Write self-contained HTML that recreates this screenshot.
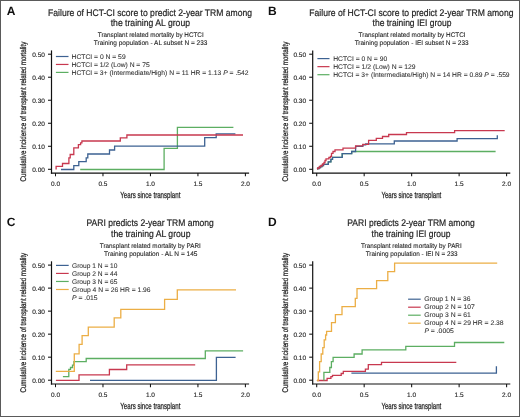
<!DOCTYPE html>
<html><head><meta charset="utf-8"><title>Figure</title>
<style>
html,body{margin:0;padding:0;background:#fff;}
body{width:520px;height:417px;overflow:hidden;font-family:"Liberation Sans", sans-serif;}
svg{display:block;will-change:transform;text-rendering:geometricPrecision;}
</style></head>
<body>
<svg width="520" height="417" viewBox="0 0 520 417" font-family='"Liberation Sans", sans-serif'>
<rect x="0" y="0" width="520" height="417" fill="#fff"/>
<g transform="translate(0,0)">
<text x="6.7" y="15.0" font-size="12" fill="#111" font-weight="bold" text-anchor="start" >A</text>
<text x="48.10" y="15.6" font-size="9.6" fill="#1e1e1e" font-weight="normal" stroke="#1e1e1e" stroke-width="0.2" textLength="203.90" lengthAdjust="spacingAndGlyphs" >Failure of HCT-CI score to predict 2-year TRM among</text>
<text x="110.70" y="25.9" font-size="9.6" fill="#1e1e1e" font-weight="normal" stroke="#1e1e1e" stroke-width="0.2" textLength="79.30" lengthAdjust="spacingAndGlyphs" >the training AL group</text>
<text x="97.75" y="37.2" font-size="6.7" fill="#1e1e1e" font-weight="normal" stroke="#1e1e1e" stroke-width="0.1" textLength="105.90" lengthAdjust="spacingAndGlyphs" >Transplant related mortality by HCTCI</text>
<text x="93.75" y="45.0" font-size="6.7" fill="#1e1e1e" font-weight="normal" stroke="#1e1e1e" stroke-width="0.1" textLength="113.60" lengthAdjust="spacingAndGlyphs" >Training population - AL subset N = 233</text>
<line x1="51.5" y1="50.4" x2="51.5" y2="173.7" stroke="#111" stroke-width="1.2"/>
<line x1="50.9" y1="173.1" x2="249.1" y2="173.1" stroke="#111" stroke-width="1.2"/>
<line x1="48.0" y1="169.30" x2="51.5" y2="169.30" stroke="#111" stroke-width="1.05"/>
<text x="44.9" y="171.80" font-size="6.5" fill="#222" font-weight="normal" stroke="#222" stroke-width="0.12" text-anchor="end" >0.00</text>
<line x1="48.0" y1="146.28" x2="51.5" y2="146.28" stroke="#111" stroke-width="1.05"/>
<text x="44.9" y="148.78" font-size="6.5" fill="#222" font-weight="normal" stroke="#222" stroke-width="0.12" text-anchor="end" >0.10</text>
<line x1="48.0" y1="123.26" x2="51.5" y2="123.26" stroke="#111" stroke-width="1.05"/>
<text x="44.9" y="125.76" font-size="6.5" fill="#222" font-weight="normal" stroke="#222" stroke-width="0.12" text-anchor="end" >0.20</text>
<line x1="48.0" y1="100.24" x2="51.5" y2="100.24" stroke="#111" stroke-width="1.05"/>
<text x="44.9" y="102.74" font-size="6.5" fill="#222" font-weight="normal" stroke="#222" stroke-width="0.12" text-anchor="end" >0.30</text>
<line x1="48.0" y1="77.22" x2="51.5" y2="77.22" stroke="#111" stroke-width="1.05"/>
<text x="44.9" y="79.72" font-size="6.5" fill="#222" font-weight="normal" stroke="#222" stroke-width="0.12" text-anchor="end" >0.40</text>
<line x1="48.0" y1="54.20" x2="51.5" y2="54.20" stroke="#111" stroke-width="1.05"/>
<text x="44.9" y="56.70" font-size="6.5" fill="#222" font-weight="normal" stroke="#222" stroke-width="0.12" text-anchor="end" >0.50</text>
<line x1="55.50" y1="173.1" x2="55.50" y2="176.3" stroke="#111" stroke-width="1.05"/>
<text x="55.50" y="185.7" font-size="6.5" fill="#222" font-weight="normal" stroke="#222" stroke-width="0.12" text-anchor="middle" >0.0</text>
<line x1="102.97" y1="173.1" x2="102.97" y2="176.3" stroke="#111" stroke-width="1.05"/>
<text x="102.97" y="185.7" font-size="6.5" fill="#222" font-weight="normal" stroke="#222" stroke-width="0.12" text-anchor="middle" >0.5</text>
<line x1="150.45" y1="173.1" x2="150.45" y2="176.3" stroke="#111" stroke-width="1.05"/>
<text x="150.45" y="185.7" font-size="6.5" fill="#222" font-weight="normal" stroke="#222" stroke-width="0.12" text-anchor="middle" >1.0</text>
<line x1="197.93" y1="173.1" x2="197.93" y2="176.3" stroke="#111" stroke-width="1.05"/>
<text x="197.93" y="185.7" font-size="6.5" fill="#222" font-weight="normal" stroke="#222" stroke-width="0.12" text-anchor="middle" >1.5</text>
<line x1="245.40" y1="173.1" x2="245.40" y2="176.3" stroke="#111" stroke-width="1.05"/>
<text x="245.40" y="185.7" font-size="6.5" fill="#222" font-weight="normal" stroke="#222" stroke-width="0.12" text-anchor="middle" >2.0</text>
<text x="120.30" y="197.8" font-size="8.8" fill="#1e1e1e" font-weight="normal" stroke="#1e1e1e" stroke-width="0.25" textLength="60.05" lengthAdjust="spacingAndGlyphs" >Years since transplant</text>
<text transform="translate(26.4,181.50) rotate(-90)" x="0" y="0" font-size="8.3" fill="#1e1e1e" stroke="#1e1e1e" stroke-width="0.25" textLength="139.75" lengthAdjust="spacingAndGlyphs">Cumulative incidence of transplant related mortality</text>
<line x1="55.9" y1="56.50" x2="68.5" y2="56.50" stroke="#3d6292" stroke-width="1.2"/>
<text x="71.50" y="58.70" font-size="6.7" fill="#333" font-weight="normal" stroke="#333" stroke-width="0.08" textLength="54.15" lengthAdjust="spacingAndGlyphs" >HCTCI = 0 N = 59</text>
<line x1="55.9" y1="64.45" x2="68.5" y2="64.45" stroke="#c8384f" stroke-width="1.2"/>
<text x="71.50" y="66.65" font-size="6.7" fill="#333" font-weight="normal" stroke="#333" stroke-width="0.08" textLength="78.15" lengthAdjust="spacingAndGlyphs" >HCTCI = 1/2 (Low) N = 75</text>
<line x1="55.9" y1="72.40" x2="68.5" y2="72.40" stroke="#5cae62" stroke-width="1.2"/>
<text x="71.50" y="74.60" font-size="6.7" fill="#333" font-weight="normal" stroke="#333" stroke-width="0.08" textLength="177.05" lengthAdjust="spacingAndGlyphs" >HCTCI = 3+ (Intermediate/High) N = 11 HR = 1.13 <tspan font-style="italic">P</tspan> = .542</text>
<polyline points="80.20,169.50 164.10,169.50 164.10,148.30 177.40,148.30 177.40,127.30 233.40,127.30" fill="none" stroke="#5cae62" stroke-width="1.3" stroke-linejoin="miter" stroke-linecap="butt"/>
<polyline points="61.00,169.50 73.80,169.50 73.80,165.70 78.80,165.70 78.80,161.60 86.20,161.60 86.20,157.80 87.80,157.80 87.80,154.00 109.50,154.00 109.50,150.00 114.60,150.00 114.60,146.10 204.70,146.10 204.70,137.70 216.20,137.70 216.20,133.80 235.40,133.80" fill="none" stroke="#3d6292" stroke-width="1.3" stroke-linejoin="miter" stroke-linecap="butt"/>
<polyline points="56.10,169.40 56.10,169.40 56.10,166.30 62.50,166.30 62.50,163.50 68.90,163.50 68.90,157.80 70.20,157.80 70.20,154.50 73.80,154.50 73.80,147.90 78.40,147.90 78.40,144.60 80.60,144.60 80.60,142.90 81.90,142.90 81.90,141.00 120.30,141.00 120.30,137.80 126.90,137.80 126.90,135.00 243.00,135.00" fill="none" stroke="#c8384f" stroke-width="1.3" stroke-linejoin="miter" stroke-linecap="butt"/>
</g>
<g transform="translate(261.2,0)">
<text x="6.7" y="15.0" font-size="12" fill="#111" font-weight="bold" text-anchor="start" >B</text>
<text x="48.10" y="15.6" font-size="9.6" fill="#1e1e1e" font-weight="normal" stroke="#1e1e1e" stroke-width="0.2" textLength="204.15" lengthAdjust="spacingAndGlyphs" >Failure of HCT-CI score to predict 2-year TRM among</text>
<text x="111.35" y="25.9" font-size="9.6" fill="#1e1e1e" font-weight="normal" stroke="#1e1e1e" stroke-width="0.2" textLength="78.90" lengthAdjust="spacingAndGlyphs" >the training IEI group</text>
<text x="97.40" y="37.2" font-size="6.7" fill="#1e1e1e" font-weight="normal" stroke="#1e1e1e" stroke-width="0.1" textLength="106.95" lengthAdjust="spacingAndGlyphs" >Transplant related mortality by HCTCI</text>
<text x="93.45" y="45.0" font-size="6.7" fill="#1e1e1e" font-weight="normal" stroke="#1e1e1e" stroke-width="0.1" textLength="113.95" lengthAdjust="spacingAndGlyphs" >Training population - IEI subset N = 233</text>
<line x1="51.5" y1="50.4" x2="51.5" y2="173.7" stroke="#111" stroke-width="1.2"/>
<line x1="50.9" y1="173.1" x2="249.1" y2="173.1" stroke="#111" stroke-width="1.2"/>
<line x1="48.0" y1="169.30" x2="51.5" y2="169.30" stroke="#111" stroke-width="1.05"/>
<text x="44.9" y="171.80" font-size="6.5" fill="#222" font-weight="normal" stroke="#222" stroke-width="0.12" text-anchor="end" >0.00</text>
<line x1="48.0" y1="146.28" x2="51.5" y2="146.28" stroke="#111" stroke-width="1.05"/>
<text x="44.9" y="148.78" font-size="6.5" fill="#222" font-weight="normal" stroke="#222" stroke-width="0.12" text-anchor="end" >0.10</text>
<line x1="48.0" y1="123.26" x2="51.5" y2="123.26" stroke="#111" stroke-width="1.05"/>
<text x="44.9" y="125.76" font-size="6.5" fill="#222" font-weight="normal" stroke="#222" stroke-width="0.12" text-anchor="end" >0.20</text>
<line x1="48.0" y1="100.24" x2="51.5" y2="100.24" stroke="#111" stroke-width="1.05"/>
<text x="44.9" y="102.74" font-size="6.5" fill="#222" font-weight="normal" stroke="#222" stroke-width="0.12" text-anchor="end" >0.30</text>
<line x1="48.0" y1="77.22" x2="51.5" y2="77.22" stroke="#111" stroke-width="1.05"/>
<text x="44.9" y="79.72" font-size="6.5" fill="#222" font-weight="normal" stroke="#222" stroke-width="0.12" text-anchor="end" >0.40</text>
<line x1="48.0" y1="54.20" x2="51.5" y2="54.20" stroke="#111" stroke-width="1.05"/>
<text x="44.9" y="56.70" font-size="6.5" fill="#222" font-weight="normal" stroke="#222" stroke-width="0.12" text-anchor="end" >0.50</text>
<line x1="55.50" y1="173.1" x2="55.50" y2="176.3" stroke="#111" stroke-width="1.05"/>
<text x="55.50" y="185.7" font-size="6.5" fill="#222" font-weight="normal" stroke="#222" stroke-width="0.12" text-anchor="middle" >0.0</text>
<line x1="102.97" y1="173.1" x2="102.97" y2="176.3" stroke="#111" stroke-width="1.05"/>
<text x="102.97" y="185.7" font-size="6.5" fill="#222" font-weight="normal" stroke="#222" stroke-width="0.12" text-anchor="middle" >0.5</text>
<line x1="150.45" y1="173.1" x2="150.45" y2="176.3" stroke="#111" stroke-width="1.05"/>
<text x="150.45" y="185.7" font-size="6.5" fill="#222" font-weight="normal" stroke="#222" stroke-width="0.12" text-anchor="middle" >1.0</text>
<line x1="197.93" y1="173.1" x2="197.93" y2="176.3" stroke="#111" stroke-width="1.05"/>
<text x="197.93" y="185.7" font-size="6.5" fill="#222" font-weight="normal" stroke="#222" stroke-width="0.12" text-anchor="middle" >1.5</text>
<line x1="245.40" y1="173.1" x2="245.40" y2="176.3" stroke="#111" stroke-width="1.05"/>
<text x="245.40" y="185.7" font-size="6.5" fill="#222" font-weight="normal" stroke="#222" stroke-width="0.12" text-anchor="middle" >2.0</text>
<text x="120.25" y="197.8" font-size="8.8" fill="#1e1e1e" font-weight="normal" stroke="#1e1e1e" stroke-width="0.25" textLength="59.80" lengthAdjust="spacingAndGlyphs" >Years since transplant</text>
<text transform="translate(26.4,181.50) rotate(-90)" x="0" y="0" font-size="8.3" fill="#1e1e1e" stroke="#1e1e1e" stroke-width="0.25" textLength="139.75" lengthAdjust="spacingAndGlyphs">Cumulative incidence of transplant related mortality</text>
<line x1="56.19999999999999" y1="58.60" x2="68.30000000000001" y2="58.60" stroke="#3d6292" stroke-width="1.2"/>
<text x="72.00" y="60.80" font-size="6.7" fill="#333" font-weight="normal" stroke="#333" stroke-width="0.08" textLength="54.00" lengthAdjust="spacingAndGlyphs" >HCTCI = 0 N = 90</text>
<line x1="56.19999999999999" y1="66.65" x2="68.30000000000001" y2="66.65" stroke="#c8384f" stroke-width="1.2"/>
<text x="72.00" y="68.85" font-size="6.7" fill="#333" font-weight="normal" stroke="#333" stroke-width="0.08" textLength="82.45" lengthAdjust="spacingAndGlyphs" >HCTCI = 1/2 (Low) N = 129</text>
<line x1="56.19999999999999" y1="74.70" x2="68.30000000000001" y2="74.70" stroke="#5cae62" stroke-width="1.2"/>
<text x="72.00" y="76.90" font-size="6.7" fill="#333" font-weight="normal" stroke="#333" stroke-width="0.08" textLength="176.40" lengthAdjust="spacingAndGlyphs" >HCTCI = 3+ (Intermediate/High) N = 14 HR = 0.89 <tspan font-style="italic">P</tspan> = .559</text>
<polyline points="56.40,169.60 56.40,169.60 56.40,168.50 57.80,168.50 57.80,167.50 59.30,167.50 59.30,166.50 60.80,166.50 60.80,165.50 62.30,165.50 62.30,164.40 67.10,164.40 67.10,161.90 69.70,161.90 69.70,159.30 71.30,159.30 71.30,157.30 81.00,157.30 81.00,153.60 90.50,153.60 90.50,151.50 234.40,151.50" fill="none" stroke="#5cae62" stroke-width="1.3" stroke-linejoin="miter" stroke-linecap="butt"/>
<polyline points="56.40,169.60 56.40,169.60 56.40,168.50 57.80,168.50 57.80,167.50 59.30,167.50 59.30,166.50 60.80,166.50 60.80,165.50 62.30,165.50 62.30,164.40 67.10,164.40 67.10,161.90 69.70,161.90 69.70,159.30 71.30,159.30 71.30,157.30 81.00,157.30 81.00,153.60 90.50,153.60 90.50,151.50 94.40,151.50 94.40,146.30 101.60,146.30 101.60,144.80 104.50,144.80 104.50,143.90 133.10,143.90 133.10,141.00 195.90,141.00 195.90,138.60 236.10,138.60 236.10,135.20" fill="none" stroke="#3d6292" stroke-width="1.3" stroke-linejoin="miter" stroke-linecap="butt"/>
<polyline points="56.40,169.60 56.40,169.60 56.40,168.00 58.30,168.00 58.30,166.50 59.80,166.50 59.80,165.50 61.30,165.50 61.30,164.00 62.80,164.00 62.80,162.50 63.80,162.50 63.80,160.50 64.80,160.50 64.80,158.90 67.70,158.90 67.70,157.50 69.30,157.50 69.30,156.30 70.30,156.30 70.30,153.40 71.80,153.40 71.80,151.50 73.80,151.50 73.80,149.80 81.80,149.80 81.80,148.10 94.40,148.10 94.40,145.90 101.60,145.90 101.60,144.40 107.40,144.40 107.40,140.30 115.10,140.30 115.10,138.40 121.30,138.40 121.30,136.50 127.50,136.50 127.50,134.50 145.30,134.50 145.30,132.60 193.40,132.60 193.40,130.60 243.50,130.60" fill="none" stroke="#c8384f" stroke-width="1.3" stroke-linejoin="miter" stroke-linecap="butt"/>
</g>
<g transform="translate(0,210.9)">
<text x="6.7" y="15.0" font-size="12" fill="#111" font-weight="bold" text-anchor="start" >C</text>
<text x="86.50" y="15.6" font-size="9.6" fill="#1e1e1e" font-weight="normal" stroke="#1e1e1e" stroke-width="0.2" textLength="127.25" lengthAdjust="spacingAndGlyphs" >PARI predicts 2-year TRM among</text>
<text x="111.00" y="25.9" font-size="9.6" fill="#1e1e1e" font-weight="normal" stroke="#1e1e1e" stroke-width="0.2" textLength="79.45" lengthAdjust="spacingAndGlyphs" >the training AL group</text>
<text x="99.80" y="37.2" font-size="6.7" fill="#1e1e1e" font-weight="normal" stroke="#1e1e1e" stroke-width="0.1" textLength="101.00" lengthAdjust="spacingAndGlyphs" >Transplant related mortality by PARI</text>
<text x="104.00" y="45.0" font-size="6.7" fill="#1e1e1e" font-weight="normal" stroke="#1e1e1e" stroke-width="0.1" textLength="93.45" lengthAdjust="spacingAndGlyphs" >Training population - AL N = 145</text>
<line x1="51.5" y1="50.4" x2="51.5" y2="173.7" stroke="#111" stroke-width="1.2"/>
<line x1="50.9" y1="173.1" x2="249.1" y2="173.1" stroke="#111" stroke-width="1.2"/>
<line x1="48.0" y1="169.30" x2="51.5" y2="169.30" stroke="#111" stroke-width="1.05"/>
<text x="44.9" y="171.80" font-size="6.5" fill="#222" font-weight="normal" stroke="#222" stroke-width="0.12" text-anchor="end" >0.00</text>
<line x1="48.0" y1="146.28" x2="51.5" y2="146.28" stroke="#111" stroke-width="1.05"/>
<text x="44.9" y="148.78" font-size="6.5" fill="#222" font-weight="normal" stroke="#222" stroke-width="0.12" text-anchor="end" >0.10</text>
<line x1="48.0" y1="123.26" x2="51.5" y2="123.26" stroke="#111" stroke-width="1.05"/>
<text x="44.9" y="125.76" font-size="6.5" fill="#222" font-weight="normal" stroke="#222" stroke-width="0.12" text-anchor="end" >0.20</text>
<line x1="48.0" y1="100.24" x2="51.5" y2="100.24" stroke="#111" stroke-width="1.05"/>
<text x="44.9" y="102.74" font-size="6.5" fill="#222" font-weight="normal" stroke="#222" stroke-width="0.12" text-anchor="end" >0.30</text>
<line x1="48.0" y1="77.22" x2="51.5" y2="77.22" stroke="#111" stroke-width="1.05"/>
<text x="44.9" y="79.72" font-size="6.5" fill="#222" font-weight="normal" stroke="#222" stroke-width="0.12" text-anchor="end" >0.40</text>
<line x1="48.0" y1="54.20" x2="51.5" y2="54.20" stroke="#111" stroke-width="1.05"/>
<text x="44.9" y="56.70" font-size="6.5" fill="#222" font-weight="normal" stroke="#222" stroke-width="0.12" text-anchor="end" >0.50</text>
<line x1="55.50" y1="173.1" x2="55.50" y2="176.3" stroke="#111" stroke-width="1.05"/>
<text x="55.50" y="185.7" font-size="6.5" fill="#222" font-weight="normal" stroke="#222" stroke-width="0.12" text-anchor="middle" >0.0</text>
<line x1="102.97" y1="173.1" x2="102.97" y2="176.3" stroke="#111" stroke-width="1.05"/>
<text x="102.97" y="185.7" font-size="6.5" fill="#222" font-weight="normal" stroke="#222" stroke-width="0.12" text-anchor="middle" >0.5</text>
<line x1="150.45" y1="173.1" x2="150.45" y2="176.3" stroke="#111" stroke-width="1.05"/>
<text x="150.45" y="185.7" font-size="6.5" fill="#222" font-weight="normal" stroke="#222" stroke-width="0.12" text-anchor="middle" >1.0</text>
<line x1="197.93" y1="173.1" x2="197.93" y2="176.3" stroke="#111" stroke-width="1.05"/>
<text x="197.93" y="185.7" font-size="6.5" fill="#222" font-weight="normal" stroke="#222" stroke-width="0.12" text-anchor="middle" >1.5</text>
<line x1="245.40" y1="173.1" x2="245.40" y2="176.3" stroke="#111" stroke-width="1.05"/>
<text x="245.40" y="185.7" font-size="6.5" fill="#222" font-weight="normal" stroke="#222" stroke-width="0.12" text-anchor="middle" >2.0</text>
<text x="120.30" y="197.8" font-size="8.8" fill="#1e1e1e" font-weight="normal" stroke="#1e1e1e" stroke-width="0.25" textLength="60.05" lengthAdjust="spacingAndGlyphs" >Years since transplant</text>
<text transform="translate(26.4,181.65) rotate(-90)" x="0" y="0" font-size="8.3" fill="#1e1e1e" stroke="#1e1e1e" stroke-width="0.25" textLength="139.75" lengthAdjust="spacingAndGlyphs">Cumulative incidence of transplant related mortality</text>
<line x1="56.0" y1="54.50" x2="68.7" y2="54.50" stroke="#3d6292" stroke-width="1.2"/>
<text x="72.00" y="56.70" font-size="6.7" fill="#333" font-weight="normal" stroke="#333" stroke-width="0.08" textLength="45.50" lengthAdjust="spacingAndGlyphs" >Group 1 N = 10</text>
<line x1="56.0" y1="62.53" x2="68.7" y2="62.53" stroke="#c8384f" stroke-width="1.2"/>
<text x="72.00" y="64.73" font-size="6.7" fill="#333" font-weight="normal" stroke="#333" stroke-width="0.08" textLength="45.50" lengthAdjust="spacingAndGlyphs" >Group 2 N = 44</text>
<line x1="56.0" y1="70.56" x2="68.7" y2="70.56" stroke="#5cae62" stroke-width="1.2"/>
<text x="72.00" y="72.76" font-size="6.7" fill="#333" font-weight="normal" stroke="#333" stroke-width="0.08" textLength="45.50" lengthAdjust="spacingAndGlyphs" >Group 3 N = 65</text>
<line x1="56.0" y1="78.59" x2="68.7" y2="78.59" stroke="#ecae45" stroke-width="1.2"/>
<text x="72.00" y="80.79" font-size="6.7" fill="#333" font-weight="normal" stroke="#333" stroke-width="0.08" textLength="78.55" lengthAdjust="spacingAndGlyphs" >Group 4 N = 26 HR = 1.96</text>
<text x="72.00" y="88.82" font-size="6.7" fill="#333" font-weight="normal" stroke="#333" stroke-width="0.08" textLength="25.65" lengthAdjust="spacingAndGlyphs" ><tspan font-style="italic">P</tspan> = .015</text>
<polyline points="90.00,169.50 216.40,169.50 216.40,146.50 235.60,146.50" fill="none" stroke="#3d6292" stroke-width="1.3" stroke-linejoin="miter" stroke-linecap="butt"/>
<polyline points="55.90,169.50 79.00,169.50 79.00,163.90 109.40,163.90 109.40,158.60 126.70,158.60 126.70,153.90 195.20,153.90" fill="none" stroke="#c8384f" stroke-width="1.3" stroke-linejoin="miter" stroke-linecap="butt"/>
<polyline points="62.90,165.80 68.80,165.80 68.80,158.40 70.50,158.40 70.50,156.60 72.50,156.60 72.50,154.30 73.90,154.30 73.90,150.70 86.20,150.70 86.20,147.60 205.30,147.60 205.30,140.00 243.10,140.00" fill="none" stroke="#5cae62" stroke-width="1.3" stroke-linejoin="miter" stroke-linecap="butt"/>
<polyline points="55.80,160.40 74.30,160.40 74.30,142.90 79.10,142.90 79.10,133.40 82.10,133.40 82.10,124.70 88.30,124.70 88.30,116.20 114.20,116.20 114.20,107.00 120.80,107.00 120.80,98.40 164.60,98.40 164.60,88.40 177.30,88.40 177.30,79.00 236.00,79.00" fill="none" stroke="#ecae45" stroke-width="1.3" stroke-linejoin="miter" stroke-linecap="butt"/>
</g>
<g transform="translate(261.2,210.9)">
<text x="6.7" y="15.0" font-size="12" fill="#111" font-weight="bold" text-anchor="start" >D</text>
<text x="86.05" y="15.6" font-size="9.6" fill="#1e1e1e" font-weight="normal" stroke="#1e1e1e" stroke-width="0.2" textLength="127.45" lengthAdjust="spacingAndGlyphs" >PARI predicts 2-year TRM among</text>
<text x="110.40" y="25.9" font-size="9.6" fill="#1e1e1e" font-weight="normal" stroke="#1e1e1e" stroke-width="0.2" textLength="78.95" lengthAdjust="spacingAndGlyphs" >the training IEI group</text>
<text x="99.80" y="37.2" font-size="6.7" fill="#1e1e1e" font-weight="normal" stroke="#1e1e1e" stroke-width="0.1" textLength="100.65" lengthAdjust="spacingAndGlyphs" >Transplant related mortality by PARI</text>
<text x="104.50" y="45.0" font-size="6.7" fill="#1e1e1e" font-weight="normal" stroke="#1e1e1e" stroke-width="0.1" textLength="91.85" lengthAdjust="spacingAndGlyphs" >Training population - IEI N = 233</text>
<line x1="51.5" y1="50.4" x2="51.5" y2="173.7" stroke="#111" stroke-width="1.2"/>
<line x1="50.9" y1="173.1" x2="249.1" y2="173.1" stroke="#111" stroke-width="1.2"/>
<line x1="48.0" y1="169.30" x2="51.5" y2="169.30" stroke="#111" stroke-width="1.05"/>
<text x="44.9" y="171.80" font-size="6.5" fill="#222" font-weight="normal" stroke="#222" stroke-width="0.12" text-anchor="end" >0.00</text>
<line x1="48.0" y1="146.28" x2="51.5" y2="146.28" stroke="#111" stroke-width="1.05"/>
<text x="44.9" y="148.78" font-size="6.5" fill="#222" font-weight="normal" stroke="#222" stroke-width="0.12" text-anchor="end" >0.10</text>
<line x1="48.0" y1="123.26" x2="51.5" y2="123.26" stroke="#111" stroke-width="1.05"/>
<text x="44.9" y="125.76" font-size="6.5" fill="#222" font-weight="normal" stroke="#222" stroke-width="0.12" text-anchor="end" >0.20</text>
<line x1="48.0" y1="100.24" x2="51.5" y2="100.24" stroke="#111" stroke-width="1.05"/>
<text x="44.9" y="102.74" font-size="6.5" fill="#222" font-weight="normal" stroke="#222" stroke-width="0.12" text-anchor="end" >0.30</text>
<line x1="48.0" y1="77.22" x2="51.5" y2="77.22" stroke="#111" stroke-width="1.05"/>
<text x="44.9" y="79.72" font-size="6.5" fill="#222" font-weight="normal" stroke="#222" stroke-width="0.12" text-anchor="end" >0.40</text>
<line x1="48.0" y1="54.20" x2="51.5" y2="54.20" stroke="#111" stroke-width="1.05"/>
<text x="44.9" y="56.70" font-size="6.5" fill="#222" font-weight="normal" stroke="#222" stroke-width="0.12" text-anchor="end" >0.50</text>
<line x1="55.50" y1="173.1" x2="55.50" y2="176.3" stroke="#111" stroke-width="1.05"/>
<text x="55.50" y="185.7" font-size="6.5" fill="#222" font-weight="normal" stroke="#222" stroke-width="0.12" text-anchor="middle" >0.0</text>
<line x1="102.97" y1="173.1" x2="102.97" y2="176.3" stroke="#111" stroke-width="1.05"/>
<text x="102.97" y="185.7" font-size="6.5" fill="#222" font-weight="normal" stroke="#222" stroke-width="0.12" text-anchor="middle" >0.5</text>
<line x1="150.45" y1="173.1" x2="150.45" y2="176.3" stroke="#111" stroke-width="1.05"/>
<text x="150.45" y="185.7" font-size="6.5" fill="#222" font-weight="normal" stroke="#222" stroke-width="0.12" text-anchor="middle" >1.0</text>
<line x1="197.93" y1="173.1" x2="197.93" y2="176.3" stroke="#111" stroke-width="1.05"/>
<text x="197.93" y="185.7" font-size="6.5" fill="#222" font-weight="normal" stroke="#222" stroke-width="0.12" text-anchor="middle" >1.5</text>
<line x1="245.40" y1="173.1" x2="245.40" y2="176.3" stroke="#111" stroke-width="1.05"/>
<text x="245.40" y="185.7" font-size="6.5" fill="#222" font-weight="normal" stroke="#222" stroke-width="0.12" text-anchor="middle" >2.0</text>
<text x="120.25" y="197.8" font-size="8.8" fill="#1e1e1e" font-weight="normal" stroke="#1e1e1e" stroke-width="0.25" textLength="59.80" lengthAdjust="spacingAndGlyphs" >Years since transplant</text>
<text transform="translate(26.4,181.65) rotate(-90)" x="0" y="0" font-size="8.3" fill="#1e1e1e" stroke="#1e1e1e" stroke-width="0.25" textLength="139.75" lengthAdjust="spacingAndGlyphs">Cumulative incidence of transplant related mortality</text>
<line x1="146.90000000000003" y1="88.30" x2="159.5" y2="88.30" stroke="#3d6292" stroke-width="1.2"/>
<text x="163.00" y="90.50" font-size="6.7" fill="#333" font-weight="normal" stroke="#333" stroke-width="0.08" textLength="46.35" lengthAdjust="spacingAndGlyphs" >Group 1 N = 36</text>
<line x1="146.90000000000003" y1="96.30" x2="159.5" y2="96.30" stroke="#c8384f" stroke-width="1.2"/>
<text x="163.00" y="98.50" font-size="6.7" fill="#333" font-weight="normal" stroke="#333" stroke-width="0.08" textLength="50.55" lengthAdjust="spacingAndGlyphs" >Group 2 N = 107</text>
<line x1="146.90000000000003" y1="104.30" x2="159.5" y2="104.30" stroke="#5cae62" stroke-width="1.2"/>
<text x="163.00" y="106.50" font-size="6.7" fill="#333" font-weight="normal" stroke="#333" stroke-width="0.08" textLength="46.70" lengthAdjust="spacingAndGlyphs" >Group 3 N = 61</text>
<line x1="146.90000000000003" y1="112.30" x2="159.5" y2="112.30" stroke="#ecae45" stroke-width="1.2"/>
<text x="163.00" y="114.50" font-size="6.7" fill="#333" font-weight="normal" stroke="#333" stroke-width="0.08" textLength="79.45" lengthAdjust="spacingAndGlyphs" >Group 4 N = 29 HR = 2.38</text>
<text x="163.25" y="122.50" font-size="6.7" fill="#333" font-weight="normal" stroke="#333" stroke-width="0.08" textLength="29.30" lengthAdjust="spacingAndGlyphs" ><tspan font-style="italic">P</tspan> = .0005</text>
<polyline points="90.20,162.30 235.20,162.30 235.20,155.30" fill="none" stroke="#3d6292" stroke-width="1.3" stroke-linejoin="miter" stroke-linecap="butt"/>
<polyline points="55.70,169.60 65.90,169.60 65.90,167.40 69.70,167.40 69.70,165.80 71.30,165.80 71.30,164.50 80.00,164.50 80.00,162.60 82.10,162.60 82.10,160.50 104.20,160.50 104.20,158.30 107.10,158.30 107.10,153.70 120.30,153.70 120.30,151.50 195.10,151.50" fill="none" stroke="#c8384f" stroke-width="1.3" stroke-linejoin="miter" stroke-linecap="butt"/>
<polyline points="62.70,169.60 62.70,169.60 62.70,161.50 68.60,161.50 68.60,156.60 70.20,156.60 70.20,150.70 71.90,150.70 71.90,146.50 92.90,146.50 92.90,143.10 100.90,143.10 100.90,139.00 144.60,139.00 144.60,135.40 193.30,135.40 193.30,131.60 243.10,131.60" fill="none" stroke="#5cae62" stroke-width="1.3" stroke-linejoin="miter" stroke-linecap="butt"/>
<polyline points="55.70,169.60 57.10,169.60 57.10,161.00 58.40,161.00 58.40,150.70 60.00,150.70 60.00,143.10 61.60,143.10 61.60,136.70 63.00,136.70 63.00,128.90 64.40,128.90 64.40,124.10 65.40,124.10 65.40,120.40 70.30,120.40 70.30,111.70 74.20,111.70 74.20,103.80 80.80,103.80 80.80,95.80 94.10,95.80 94.10,87.40 95.80,87.40 95.80,77.70 115.40,77.70 115.40,69.80 126.60,69.80 126.60,60.70 133.40,60.70 133.40,52.20 236.00,52.20" fill="none" stroke="#ecae45" stroke-width="1.3" stroke-linejoin="miter" stroke-linecap="butt"/>
</g>
<rect x="0.5" y="0.5" width="519" height="416" fill="none" stroke="#5a5a5a" stroke-width="1"/>
</svg>
</body></html>
